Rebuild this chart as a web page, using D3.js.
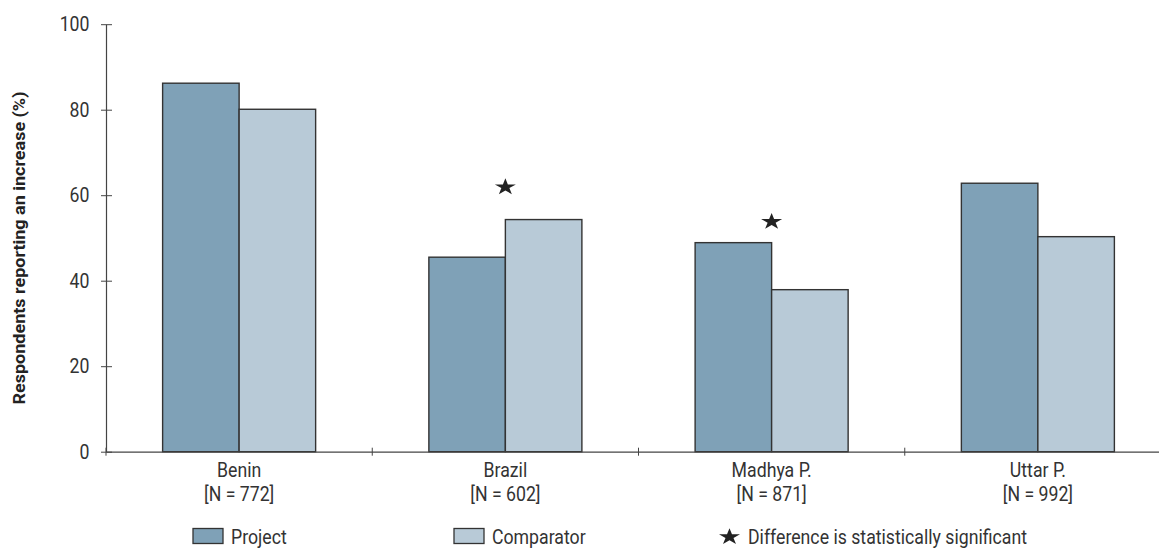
<!DOCTYPE html>
<html>
<head>
<meta charset="utf-8">
<script src="https://cdn.jsdelivr.net/npm/d3@7"></script>
<style>
  body { margin: 0; background: #fff; }
  svg text { font-family: Roboto, "Liberation Sans", sans-serif; fill: #333; }
</style>
</head>
<body>
<svg id="chart" width="1159" height="548"></svg>
<script>
const categories = ["Benin", "Brazil", "Madhya P.", "Uttar P."];
const sampleSizes = ["[N = 772]", "[N = 602]", "[N = 871]", "[N = 992]"];
const projectValues = [86.2, 45.5, 48.9, 62.8];
const comparatorValues = [80.1, 54.3, 37.9, 50.3];
const significantCategories = ["Brazil", "Madhya P."];
const starValues = [61.9, 53.8];
const yTicks = [0, 20, 40, 60, 80, 100];
const seriesNames = ["Project", "Comparator"];
const starLegend = "Difference is statistically significant";
const yTitle = "Respondents reporting an increase (%)";

const colors = { Project: "#7fa1b7", Comparator: "#b8cad7" };

const svg = d3.select("#chart");
const x0 = 106, x1 = 1171, yTop = 24.2, yBot = 451.7;
const FS = 19.8;

const x = d3.scaleBand().domain(categories).range([x0, x1]).paddingInner(0).paddingOuter(0);
const xs = d3.scaleBand().domain(seriesNames).range([0, x.bandwidth()]).paddingInner(0).paddingOuter(0.74);
const y = d3.scaleLinear().domain([0, 100]).range([yBot, yTop]);

// measure condensation factor so the regular font looks condensed like the original
const probe = svg.append("text").attr("font-size", FS).text(starLegend);
const squeeze = 279 / probe.node().getComputedTextLength();
probe.remove();

function ctext(g, tx, ty, str, anchor) {
  return g.append("text")
    .attr("transform", `translate(${tx},${ty}) scale(${squeeze},1)`)
    .attr("text-anchor", anchor || "start")
    .attr("font-size", FS)
    .text(str);
}

// bars
const data = [];
categories.forEach((c, i) => {
  data.push({ cat: c, series: "Project", value: projectValues[i] });
  data.push({ cat: c, series: "Comparator", value: comparatorValues[i] });
});
svg.append("g").selectAll("rect").data(data).join("rect")
  .attr("x", d => x(d.cat) + xs(d.series))
  .attr("y", d => y(d.value))
  .attr("width", xs.bandwidth())
  .attr("height", d => y(0) - y(d.value))
  .attr("fill", d => colors[d.series])
  .attr("stroke", "#333")
  .attr("stroke-width", 1.4);

// y axis
const yAxis = d3.axisLeft(y).tickValues(yTicks).tickSizeInner(5).tickSizeOuter(0).tickFormat("");
const gy = svg.append("g").attr("transform", `translate(${x0},0)`).call(yAxis);
gy.select(".domain").attr("stroke", "#444").attr("stroke-width", 1.2);
gy.selectAll(".tick line").attr("stroke", "#444").attr("x1", -5).attr("x2", 6).attr("stroke-width", 1);
const yl = svg.append("g");
yTicks.forEach(t => ctext(yl, 89.5, y(t) + 7, String(t), "end"));

// x axis
const xAxis = d3.axisBottom(x).tickSize(0).tickFormat("");
const gx = svg.append("g").attr("transform", `translate(0,${yBot})`).call(xAxis);
gx.select(".domain").attr("stroke", "#444").attr("stroke-width", 1.2);
gx.selectAll(".sep").data(categories.map(c => x(c))).join("line")
  .attr("x1", d => d).attr("x2", d => d).attr("y1", -4).attr("y2", 4)
  .attr("stroke", "#444").attr("stroke-width", 1);

// category labels
const labels = svg.append("g");
categories.forEach((c, i) => {
  const cx = x(c) + x.bandwidth() / 2;
  ctext(labels, cx, 477, c, "middle");
  ctext(labels, cx, 501, sampleSizes[i], "middle");
});

// y axis title
const tprobe = svg.append("text").attr("font-size", 16.5).attr("font-weight", "bold").text(yTitle);
const tsq = 313 / tprobe.node().getComputedTextLength();
tprobe.remove();
svg.append("text")
  .attr("transform", `translate(25,248) rotate(-90) scale(${tsq},1)`)
  .attr("text-anchor", "middle")
  .attr("font-size", 16.5).attr("font-weight", "bold")
  .style("fill", "#222")
  .text(yTitle);

// stars
const starPath = d3.symbol().type(d3.symbolStar).size(95)();
svg.append("g").selectAll("path").data(significantCategories).join("path")
  .attr("d", starPath)
  .attr("transform", (d, i) => `translate(${x(d) + x.bandwidth() / 2},${y(starValues[i])}) scale(1.2,0.95)`)
  .attr("fill", "#222");

// legend
const lg = svg.append("g");
const legendItems = [
  { name: "Project", sx: 193, tx: 231 },
  { name: "Comparator", sx: 454, tx: 492 }
];
legendItems.forEach(it => {
  lg.append("rect").attr("x", it.sx).attr("y", 528.5).attr("width", 30).attr("height", 15)
    .attr("fill", colors[it.name]).attr("stroke", "#333").attr("stroke-width", 1.3);
  ctext(lg, it.tx, 544, it.name);
});
lg.append("path").attr("d", starPath)
  .attr("transform", `translate(729.5,537) scale(1.2,0.95)`).attr("fill", "#222");
ctext(lg, 748, 544, starLegend);
</script>
</body>
</html>
